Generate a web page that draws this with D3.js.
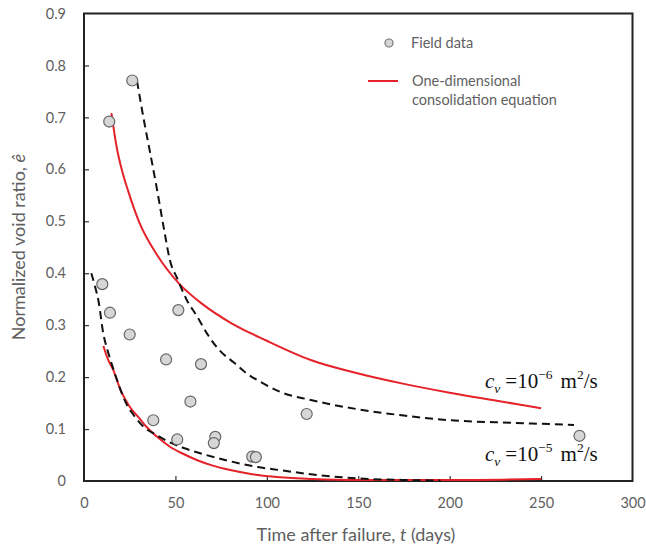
<!DOCTYPE html>
<html>
<head>
<meta charset="utf-8">
<script src="https://cdn.jsdelivr.net/npm/d3@7"></script>
<style>
  body { margin: 0; background: #fff; }
  svg text { font-family: Lato, "Open Sans", sans-serif; }
</style>
</head>
<body>
<div id="chart"></div>
<script>
// DATA
////////////////////////////
// field measurements (days, normalized void ratio)
var fieldT = [10, 14.2, 25, 44.9, 51.6, 64, 58.2, 37.9, 51, 71.8, 71, 92, 94, 26.4, 13.8, 121.8, 271];
var fieldE = [0.379, 0.324, 0.282, 0.234, 0.329, 0.225, 0.153, 0.117, 0.080, 0.085, 0.073, 0.047, 0.046, 0.771, 0.692, 0.129, 0.087];

// one-dimensional consolidation, cv = 1e-6 (red, upper)
var redHiT = [15, 18, 21, 24, 30, 40, 52, 65, 80, 100, 124, 150, 175, 200, 225, 250];
var redHiE = [0.708, 0.64, 0.595, 0.56, 0.50, 0.435, 0.38, 0.34, 0.305, 0.27, 0.233, 0.207, 0.187, 0.170, 0.155, 0.140];

// one-dimensional consolidation, cv = 1e-5 (red, lower)
var redLoT = [10.6, 13, 16, 20, 25, 30, 34, 40, 47, 55, 62, 70, 80, 92, 104, 125, 150, 200, 250];
var redLoE = [0.26, 0.235, 0.214, 0.175, 0.143, 0.122, 0.105, 0.085, 0.066, 0.051, 0.040, 0.030, 0.021, 0.013, 0.008, 0.004, 0.002, 0.002, 0.004];

// dashed fits, upper
var dashHiT = [29, 33, 36, 40, 44, 47, 51, 56, 62, 68, 74, 82, 89, 98, 107, 124, 150, 175, 200, 235, 268];
var dashHiE = [0.77, 0.69, 0.635, 0.56, 0.48, 0.425, 0.39, 0.35, 0.316, 0.28, 0.252, 0.228, 0.207, 0.188, 0.172, 0.156, 0.138, 0.126, 0.117, 0.112, 0.108];

// dashed fits, lower
var dashLoT = [4, 6, 8, 10.5, 13, 15, 19, 23, 28, 33, 40, 46, 55, 65, 80, 95, 107, 124, 150, 175, 195];
var dashLoE = [0.40, 0.375, 0.345, 0.285, 0.25, 0.227, 0.185, 0.15, 0.123, 0.103, 0.088, 0.076, 0.063, 0.052, 0.038, 0.027, 0.021, 0.013, 0.005, 0.002, 0.001];

var xTicks = [0, 50, 100, 150, 200, 250, 300];
var yTicks = [0, 0.1, 0.2, 0.3, 0.4, 0.5, 0.6, 0.7, 0.8, 0.9];

// SETUP
////////////////////////////
var width = 646, height = 550;
var plot = { left: 84, right: 632.5, top: 13.5, bottom: 481 };
var red = '#e52229';

var x = d3.scaleLinear().domain([0, 300]).range([plot.left, plot.right]);
var y = d3.scaleLinear().domain([0, 0.9]).range([plot.bottom, plot.top]);

var svg = d3.select('#chart').append('svg')
    .attr('width', width)
    .attr('height', height);

// axes - ticks point inward, labels grey
var xAxis = svg.append('g')
    .attr('transform', 'translate(0,' + plot.bottom + ')')
    .call(d3.axisBottom(x).tickValues(xTicks).tickSize(-5).tickPadding(17).tickFormat(d3.format('d')));
var yAxis = svg.append('g')
    .attr('transform', 'translate(' + plot.left + ',0)')
    .call(d3.axisLeft(y).tickValues(yTicks).tickSize(-5).tickPadding(18)
      .tickFormat(function(d) { return d === 0 ? '0' : d3.format('.1f')(d); }));

[xAxis, yAxis].forEach(function(g) {
  g.select('.domain').remove();
  g.selectAll('.tick line').attr('stroke', '#333').attr('stroke-width', 1.2);
  g.selectAll('.tick text').attr('fill', '#5f5f5f').style('font-size', '14.5px')
    .style('font-family', 'Lato, sans-serif');
});
// drop ticks at the corners
xAxis.selectAll('.tick line').filter(function(d) { return d === 0 || d === 300; }).remove();
yAxis.selectAll('.tick line').filter(function(d) { return d === 0 || d === 0.9; }).remove();

// frame
svg.append('rect')
    .attr('x', plot.left).attr('y', plot.top)
    .attr('width', plot.right - plot.left).attr('height', plot.bottom - plot.top)
    .attr('fill', 'none').attr('stroke', '#222').attr('stroke-width', 2);

// CURVES
////////////////////////////
var line = d3.line()
    .x(function(d) { return x(d[0]); })
    .y(function(d) { return y(d[1]); })
    .curve(d3.curveMonotoneX);

function pairs(t, e) { return t.map(function(v, i) { return [v, e[i]]; }); }

svg.append('path').datum(pairs(redHiT, redHiE))
    .attr('d', line).attr('fill', 'none').attr('stroke', red).attr('stroke-width', 2);
svg.append('path').datum(pairs(redLoT, redLoE))
    .attr('d', line).attr('fill', 'none').attr('stroke', red).attr('stroke-width', 2);

svg.append('path').datum(pairs(dashHiT, dashHiE))
    .attr('d', line).attr('fill', 'none').attr('stroke', '#111')
    .attr('stroke-width', 2).attr('stroke-dasharray', '8,5');
svg.append('path').datum(pairs(dashLoT, dashLoE))
    .attr('d', line).attr('fill', 'none').attr('stroke', '#111')
    .attr('stroke-width', 2).attr('stroke-dasharray', '8,5');

// field data points
svg.selectAll('circle.field')
  .data(pairs(fieldT, fieldE))
  .enter().append('circle')
    .attr('class', 'field')
    .attr('cx', function(d) { return x(d[0]); })
    .attr('cy', function(d) { return y(d[1]); })
    .attr('r', 5.5)
    .attr('fill', '#d6d6d6')
    .attr('stroke', '#666')
    .attr('stroke-width', 1.2);

// LEGEND
////////////////////////////
var legend = svg.append('g').style('font-size', '14.5px');
legend.append('circle').attr('cx', 389).attr('cy', 43).attr('r', 4)
    .attr('fill', '#d6d6d6').attr('stroke', '#777').attr('stroke-width', 1.2);
legend.append('text').attr('x', 411).attr('y', 48).attr('fill', '#5f5f5f').text('Field data');
legend.append('line').attr('x1', 368).attr('x2', 398).attr('y1', 81).attr('y2', 81)
    .attr('stroke', red).attr('stroke-width', 2);
legend.append('text').attr('x', 412).attr('y', 86).attr('fill', '#5f5f5f').text('One-dimensional');
legend.append('text').attr('x', 412).attr('y', 105).attr('fill', '#5f5f5f').text('consolidation equation');

// cv annotations
function cvLabel(xp, yp, exp) {
  var t = svg.append('text').attr('x', xp).attr('y', yp)
      .style('font-family', '"Liberation Serif", "DejaVu Serif", serif')
      .style('font-size', '21px').attr('fill', '#111');
  t.append('tspan').style('font-style', 'italic').text('c');
  t.append('tspan').style('font-style', 'italic').style('font-size', '13.5px').attr('dy', 5).text('v');
  t.append('tspan').attr('dy', -5).attr('dx', 5).text('=10');
  t.append('tspan').style('font-size', '13.5px').attr('dy', -9).text('\u2212' + exp);
  t.append('tspan').attr('dy', 9).attr('dx', 8).text('m');
  t.append('tspan').style('font-size', '13.5px').attr('dy', -9).text('2');
  t.append('tspan').attr('dy', 9).text('/s');
}
cvLabel(485, 388, '6');
cvLabel(485, 461, '5');

// axis titles
var xt = svg.append('text').attr('x', 356).attr('y', 541).attr('text-anchor', 'middle')
    .attr('fill', '#5f5f5f').style('font-size', '18px');
xt.append('tspan').text('Time after failure, ');
xt.append('tspan').style('font-style', 'italic').text('t');
xt.append('tspan').text(' (days)');

var yt = svg.append('text').attr('transform', 'translate(25,247) rotate(-90)')
    .attr('text-anchor', 'middle').attr('fill', '#5f5f5f').style('font-size', '18px');
yt.append('tspan').text('Normalized void ratio, ');
yt.append('tspan').style('font-style', 'italic').text('\u00ea');
</script>
</body>
</html>
